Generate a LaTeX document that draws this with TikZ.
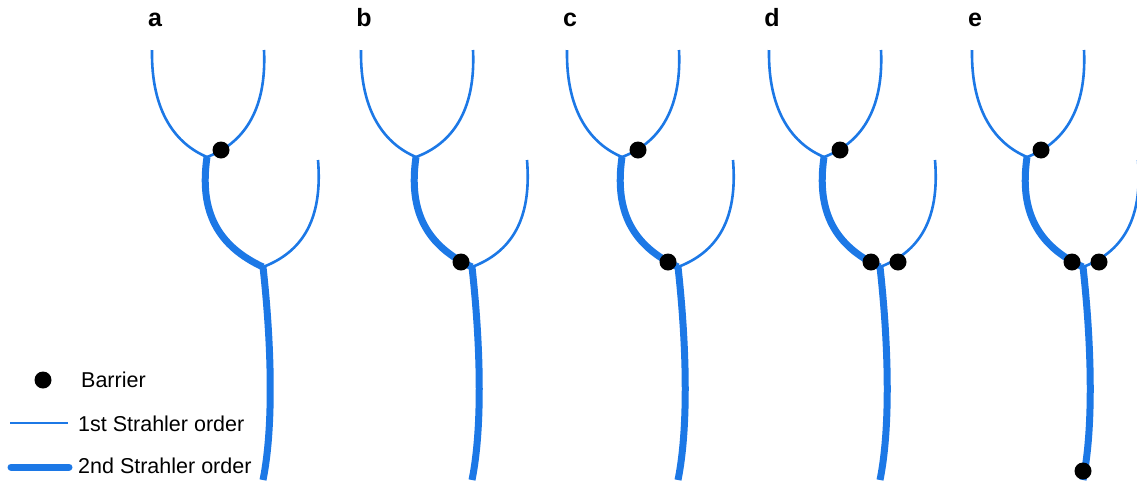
\documentclass[tikz,border=0pt]{standalone}
\usepackage{fontspec}
\setmainfont{Liberation Sans}
\usepackage{tikz}
\usetikzlibrary{positioning}
\definecolor{riverblue}{RGB}{28,120,230}

\tikzset{
  first/.style={draw=riverblue,line width=2.6pt},
  second/.style={draw=riverblue,line width=7pt},
  barrier/.style={circle,fill=black,inner sep=0pt,minimum size=17pt},
  keytext/.style={anchor=base west,inner sep=0pt,font=\fontsize{21.5}{26}\selectfont},
  panel/.style={anchor=base,inner sep=0pt,font=\fontsize{25}{30}\selectfont\bfseries},
  basin/.pic={
    % upper fork (1st order)
    \draw[first] (152,50) .. controls (151,112) and (176,144) .. (207,157);
    \draw[first] (264,50) .. controls (267,112) and (242,144) .. (207,157);
    % 2nd order reach down to the lower confluence
    \draw[second] (207,157) .. controls (199,212) and (218,246) .. (263,267);
    % lower fork (1st order)
    \draw[first] (318,160) .. controls (323,220) and (302,252) .. (263,267);
    % outlet
    \draw[second] (263,267) .. controls (270,330) and (275,420) .. (263,480);
  }
}

\begin{document}
\begin{tikzpicture}[x=1pt,y=-1pt]
  \useasboundingbox (0,0) rectangle (1137,480);

  % the five networks
  \foreach \dx/\lab in {0/a,209/b,415/c,617/d,820/e}{
    \pic at (\dx,0) {basin};
    \node[panel] (lab-\lab) at (\dx+155,26) {\lab};
  }

  % barriers
  \node[barrier] (bar-a1) at (221,150) {};
  \node[barrier] (bar-b1) at (209+252,262) {};
  \node[barrier] (bar-c1) at (415+223,150) {};
  \node[barrier] (bar-c2) at (415+253,262) {};
  \node[barrier] (bar-d1) at (617+223,150) {};
  \node[barrier] (bar-d2) at (617+254,262) {};
  \node[barrier] (bar-d3) at (617+281,262) {};
  \node[barrier] (bar-e1) at (820+221,150) {};
  \node[barrier] (bar-e2) at (820+252,262) {};
  \node[barrier] (bar-e3) at (820+279,262) {};
  \node[barrier] (bar-e4) at (820+263,471) {};

  % legend
  \node[barrier] (key-dot) at (43,380) {};
  \node[keytext] (key-bar) at (81,387) {Barrier};
  \coordinate (key1-l) at (10,423);
  \coordinate (key1-r) at (68,423);
  \draw[first] (key1-l) -- (key1-r);
  \node[keytext] (key-first) at (78,431) {1st Strahler order};
  \coordinate (key2-l) at (11,467);
  \coordinate (key2-r) at (69,467);
  \draw[second,line cap=round] (key2-l) -- (key2-r);
  \node[keytext] (key-second) at (78,473) {2nd Strahler order};
\end{tikzpicture}
\end{document}
